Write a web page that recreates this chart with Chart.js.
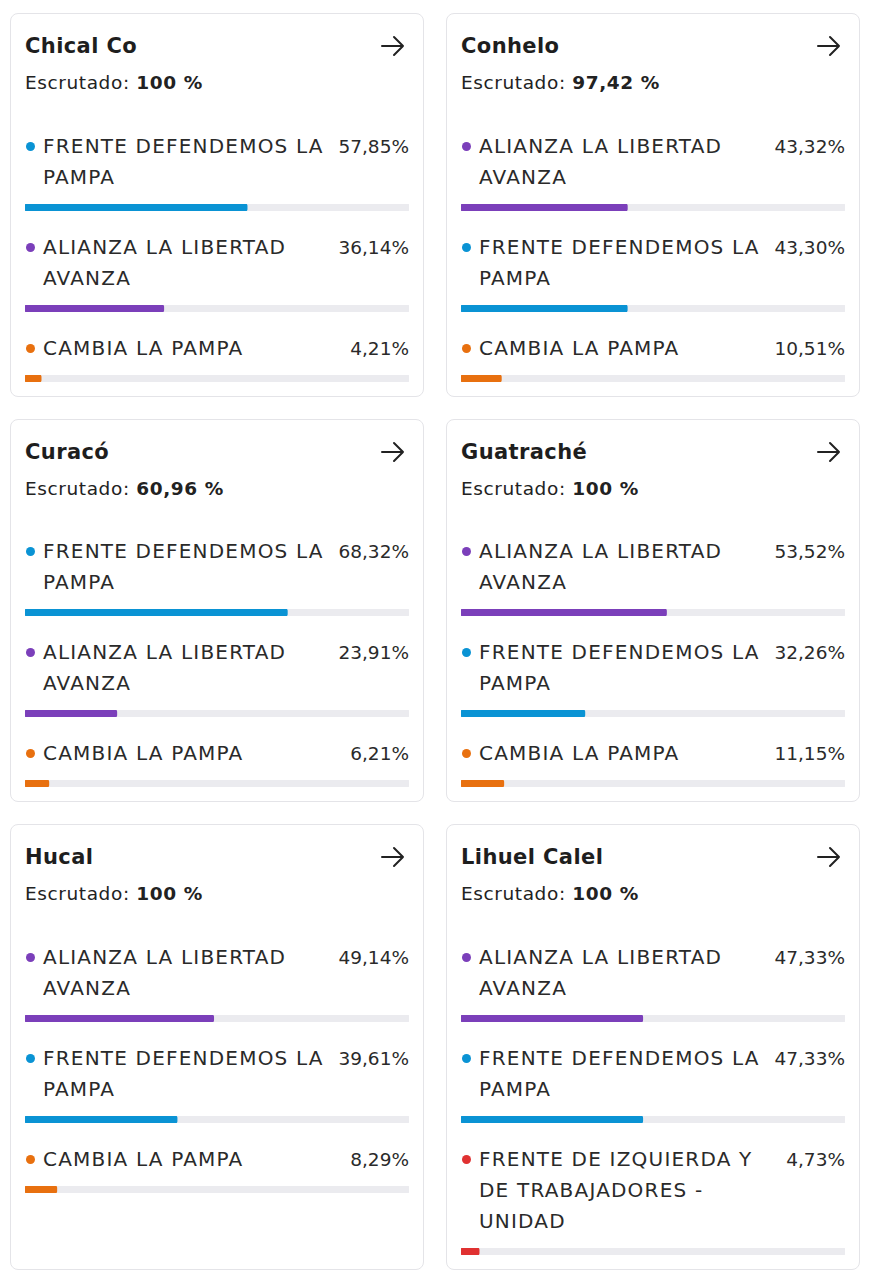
<!DOCTYPE html>
<html>
<head>
<meta charset="utf-8">
<script src="https://cdn.jsdelivr.net/npm/chart.js@4.4.0/dist/chart.umd.min.js"></script>
<style>
  body { margin: 0; background: #fff; font-family: "DejaVu Sans", sans-serif; color: #222; }
  #grid {
    position: absolute; left: 10px; top: 13px;
    display: grid; grid-template-columns: 414px 414px;
    column-gap: 22px; row-gap: 22px;
  }
  .card {
    box-sizing: border-box; border: 1.5px solid #e4e4e8; border-radius: 8px;
    padding: 17px 14px 14px 14px; position: relative;
  }
  .titulo { font-size: 21px; font-weight: 700; line-height: 30px; height: 30px; color: #1e1e1e; letter-spacing: 0.4px; }
  .flecha { position: absolute; right: 17px; top: 20px; }
  .escrutado { margin-top: 9px; font-size: 18.5px; line-height: 26px; letter-spacing: 0.6px; }
  .escrutado b { font-weight: 700; }
  .fila { display: flex; margin-top: 21px; line-height: 31px; color: #2a2a2a; }
  .fila.primera { margin-top: 34.5px; }
  .punto { width: 9px; height: 9px; border-radius: 50%; margin: 11px 8px 0 1px; flex: none; }
  .nombre { width: 294px; flex: none; font-size: 20px; letter-spacing: 1.2px; }
  .pct { flex: 1; text-align: right; font-size: 18.5px; }
  canvas { display: block; margin-top: 11px; }
</style>
</head>
<body>
<div id="grid"></div>
<script>
const municipios = ["Chical Co", "Conhelo", "Curacó", "Guatraché", "Hucal", "Lihuel Calel"];
const escrutado = ["100", "97,42", "60,96", "100", "100", "100"];

const partidos = [
  ["FRENTE DEFENDEMOS LA PAMPA", "ALIANZA LA LIBERTAD AVANZA", "CAMBIA LA PAMPA"],
  ["ALIANZA LA LIBERTAD AVANZA", "FRENTE DEFENDEMOS LA PAMPA", "CAMBIA LA PAMPA"],
  ["FRENTE DEFENDEMOS LA PAMPA", "ALIANZA LA LIBERTAD AVANZA", "CAMBIA LA PAMPA"],
  ["ALIANZA LA LIBERTAD AVANZA", "FRENTE DEFENDEMOS LA PAMPA", "CAMBIA LA PAMPA"],
  ["ALIANZA LA LIBERTAD AVANZA", "FRENTE DEFENDEMOS LA PAMPA", "CAMBIA LA PAMPA"],
  ["ALIANZA LA LIBERTAD AVANZA", "FRENTE DEFENDEMOS LA PAMPA", "FRENTE DE IZQUIERDA Y DE TRABAJADORES - UNIDAD"]
];
const porcentajes = [
  [57.85, 36.14, 4.21],
  [43.32, 43.30, 10.51],
  [68.32, 23.91, 6.21],
  [53.52, 32.26, 11.15],
  [49.14, 39.61, 8.29],
  [47.33, 47.33, 4.73]
];

const colores = {
  "FRENTE DEFENDEMOS LA PAMPA": "#0a93d4",
  "ALIANZA LA LIBERTAD AVANZA": "#7b3fba",
  "CAMBIA LA PAMPA": "#e8700f",
  "FRENTE DE IZQUIERDA Y DE TRABAJADORES - UNIDAD": "#e03131"
};

const flechaSvg = `<svg class="flecha" width="26" height="24" viewBox="0 0 26 24">
  <path d="M2 12 H23 M14 3 L23 12 L14 21" fill="none" stroke="#222" stroke-width="2" stroke-linecap="round" stroke-linejoin="round"/></svg>`;

const grid = document.getElementById("grid");

const barra = (canvas, valor, color) => {
  new Chart(canvas.getContext("2d"), {
    type: "bar",
    data: {
      labels: [""],
      datasets: [
        { data: [valor], backgroundColor: color, order: 0, grouped: false,
          borderRadius: 2, borderSkipped: false, barPercentage: 1, categoryPercentage: 1 },
        { data: [100], backgroundColor: "#ebebef", order: 1, grouped: false,
          borderRadius: 2, borderSkipped: false, barPercentage: 1, categoryPercentage: 1 }
      ]
    },
    options: {
      indexAxis: "y",
      responsive: false,
      animation: false,
      layout: { padding: 0 },
      plugins: { legend: { display: false }, tooltip: { enabled: false } },
      scales: {
        x: { display: false, min: 0, max: 100 },
        y: { display: false }
      }
    }
  });
};

municipios.forEach((muni, i) => {
  const card = document.createElement("div");
  card.className = "card";
  card.innerHTML = `<div class="titulo">${muni}</div>${flechaSvg}
    <div class="escrutado">Escrutado: <b>${escrutado[i]} %</b></div>`;
  grid.appendChild(card);

  partidos[i].forEach((p, j) => {
    const fila = document.createElement("div");
    fila.className = j === 0 ? "fila primera" : "fila";
    const texto = porcentajes[i][j].toFixed(2).replace(".", ",") + "%";
    fila.innerHTML = `<div class="punto" style="background:${colores[p]}"></div>
      <div class="nombre">${p}</div><div class="pct">${texto}</div>`;
    card.appendChild(fila);

    const cv = document.createElement("canvas");
    cv.width = 384;
    cv.height = 7;
    card.appendChild(cv);
    barra(cv, porcentajes[i][j], colores[p]);
  });
});
</script>
</body>
</html>
